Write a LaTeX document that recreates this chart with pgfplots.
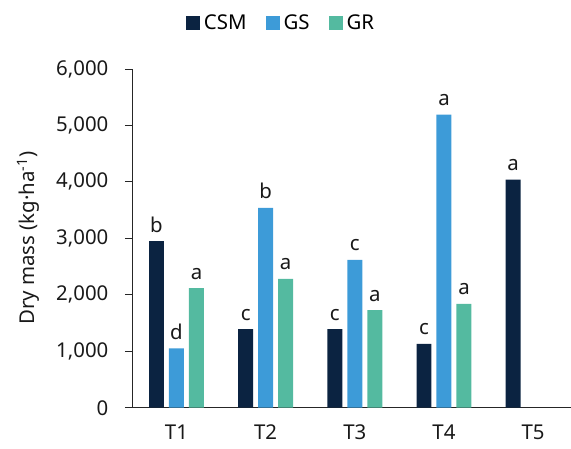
\documentclass[border=0pt]{standalone}
\usepackage{pgfplots}
\pgfplotsset{compat=1.18}
\usepackage{fontspec}
\setmainfont{Noto Sans}
\definecolor{csm}{RGB}{11,35,65}
\definecolor{gs}{RGB}{61,155,216}
\definecolor{gr}{RGB}{84,186,160}
\begin{document}
\begin{tikzpicture}
\begin{axis}[
  font=\fontsize{20.5}{23}\selectfont,
  scale only axis,
  width=439bp, height=339bp,
  xmin=-0.5, xmax=4.42,
  ymin=0, ymax=6000,
  axis x line*=bottom, axis y line*=left,
  axis line style={-, line width=0.8bp, color=black!85},
  ytick={0,1000,...,6000},
  scaled y ticks=false,
  /pgf/number format/1000 sep={,},
  /pgf/number format/assume math mode=true,
  xtick={0,1,2,3,4},
  xticklabels={T1,T2,T3,T4,T5},
  major tick length=7bp,
  tick align=outside,
  tick style={line width=0.8bp, color=black!85},
  x tick style={draw=none},
  extra x ticks={-0.5,0.5,1.5,2.5,3.5},
  extra x tick labels={},
  extra x tick style={tick style={draw=black!85, line width=0.8bp}},
  tick label style={font=\fontsize{20.5}{23}\selectfont, color=black!90},
  xticklabel style={yshift=-7bp},
  yticklabel style={xshift=-13bp},
  ylabel={Dry mass (kg·ha\textsuperscript{-1})},
  ylabel style={font=\fontsize{20.5}{23}\selectfont, color=black!90, yshift=10bp},
  ybar, bar width=15bp,
  nodes near coords,
  point meta=explicit symbolic,
  every node near coord/.append style={font=\fontsize{20.5}{23}\selectfont, color=black!90, anchor=base, yshift=9bp},
  legend style={draw=none, at={(0.34,1.136)}, anchor=center, legend columns=-1,
    font=\fontsize{20.5}{23}\selectfont,
    /tikz/every odd column/.append style={column sep=2bp},
    /tikz/every even column/.append style={column sep=17bp}},
  legend image code/.code={\fill[#1] (0bp,-7bp) rectangle (14bp,7bp);},
  clip=false,
]
\addplot[fill=csm, draw=none, bar shift=-20bp] table[meta=l] {
x y l
0 2950 b
1 1390 c
2 1390 c
3 1130 c
4 4040 a
};
\addplot[fill=gs, draw=none, bar shift=0bp] table[meta=l] {
x y l
0 1050 d
1 3540 b
2 2620 c
3 5190 a
};
\addplot[fill=gr, draw=none, bar shift=20bp] table[meta=l] {
x y l
0 2120 a
1 2280 a
2 1730 a
3 1840 a
};
\legend{CSM,GS,GR}
\coordinate (O) at (rel axis cs:0,0);
\end{axis}
\path (O) ++(-132bp,-41bp) rectangle ++(571bp,449bp);
\end{tikzpicture}
\end{document}
